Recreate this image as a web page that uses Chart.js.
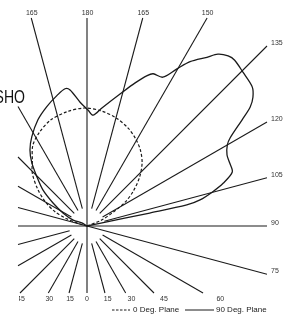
<!DOCTYPE html>
<html>
<head>
<meta charset="utf-8">
<script src="https://cdn.jsdelivr.net/npm/chart.js@4"></script>
<style>
  html, body { margin: 0; padding: 0; background: #fff; }
  canvas { display: block; }
</style>
</head>
<body>
<canvas id="chart" width="283" height="318"></canvas>
<script>
// angles are measured from the bottom (0), round the right (90) to the top (180) and down the left side
const spokeAngles = [0, 15, 30, 45, 60, 75, 90, 105, 120, 135, 150, 165, 180,
  195, 210, 225, 240, 255, 270, 285, 300, 315, 330, 345];
const spokeLabels = ['0', '15', '30', '45', '60', '75', '90', '105', '120', '135', '150', '165', '180',
  '165', '150', '135', '120', '105', '90', '75', '60', '45', '30', '15'];
const fullSpokes = [0, 75, 90, 180, 255, 270]; // these run right through the centre

// 0 Deg. Plane (dashed)
const planeAAngles = [105, 112, 118, 122, 127, 133, 139, 145, 151, 157, 165, 173, 181,
  190, 199, 207, 214, 220, 226, 233, 240, 246, 250, 253, 255];
const planeARadii = [0, 15, 30, 45, 58, 72, 84, 93, 100, 106, 112, 116, 118,
  116, 112, 105, 97, 85, 76, 62, 48, 35, 23, 10, 0];

// 90 Deg. Plane (solid)
const planeBAngles = [100, 102, 101.7, 101.9, 103, 105.2, 107.5, 110.4, 113.8, 116.9, 120, 121.6,
  124.4, 126.1, 127.8, 130.1, 134.6, 138.3, 140.3, 142.7, 144.6, 147.9, 150.2, 153, 156.5, 158.2,
  161.4, 165.3, 172.8, 176.9, 179.5, 183.2, 187.1, 189.1, 192.9, 198.6, 204.8, 211.7, 216.9,
  221.1, 225.6, 230.7, 235.9, 241.6, 246.8, 239, 240];
const planeBRadii = [0, 13, 64, 102, 116, 130, 143, 155, 156, 157, 162, 168,
  188, 202, 210, 216, 219, 222, 221, 216, 207, 194, 181, 167, 166, 162,
  151, 138, 119, 111, 116, 124, 137, 139, 134, 126, 117, 105, 95,
  84, 70, 57, 41, 27, 15, 6, 0];

const legendLabels = ['0 Deg. Plane', '90 Deg. Plane'];

const X_MIN = -69, X_MAX = 180, Y_MIN = -67, Y_MAX = 208;
const INNER = 18;

function toXY(a, r) {
  const rad = a * Math.PI / 180;
  return { x: r * Math.sin(rad), y: -r * Math.cos(rad) };
}

function spokeEnd(a) {
  const rad = a * Math.PI / 180;
  const dx = Math.sin(rad), dy = -Math.cos(rad);
  let t = Infinity, side = '';
  const test = (v, s) => { if (v > 0 && v < t) { t = v; side = s; } };
  if (dx > 1e-9) test(X_MAX / dx, 'right');
  if (dx < -1e-9) test(X_MIN / dx, 'left');
  if (dy > 1e-9) test(Y_MAX / dy, 'top');
  if (dy < -1e-9) test(Y_MIN / dy, 'bottom');
  return { x: dx * t, y: dy * t, dx, dy, side };
}

const spokeSets = spokeAngles.map(a => {
  const end = spokeEnd(a);
  const start = toXY(a, fullSpokes.includes(a) ? 0 : INNER);
  return {
    data: [start, { x: end.x, y: end.y }],
    showLine: true,
    borderColor: '#1a1a1a',
    borderWidth: 1.1,
    pointRadius: 0,
    clip: 2
  };
});

const planeA = {
  label: legendLabels[0],
  data: planeAAngles.map((a, i) => toXY(a, planeARadii[i])),
  showLine: true,
  borderColor: '#1a1a1a',
  borderWidth: 1.2,
  borderDash: [3, 2],
  pointRadius: 0,
  tension: 0.3
};

const planeB = {
  label: legendLabels[1],
  data: planeBAngles.map((a, i) => toXY(a, planeBRadii[i])),
  showLine: true,
  borderColor: '#1a1a1a',
  borderWidth: 1.3,
  pointRadius: 0,
  tension: 0.3
};

const overlay = {
  id: 'overlay',
  afterDraw(chart) {
    const { ctx, scales: { x, y } } = chart;

    // spoke labels, everything left of the frame is cut away
    ctx.save();
    ctx.beginPath();
    ctx.rect(19, 0, 300, 318);
    ctx.clip();
    ctx.font = '7px "Liberation Sans", Arial, sans-serif';
    ctx.fillStyle = '#333';
    spokeAngles.forEach((a, i) => {
      const end = spokeEnd(a);
      const px = x.getPixelForValue(end.x);
      const py = y.getPixelForValue(end.y);
      ctx.textBaseline = 'middle';
      if (end.side === 'top') {
        ctx.textAlign = 'center';
        ctx.fillText(spokeLabels[i], px + 0.5, py - 5);
      } else if (end.side === 'right') {
        ctx.textAlign = 'left';
        ctx.fillText(spokeLabels[i], px + 4, py - 3);
      } else if (end.side === 'left') {
        ctx.textAlign = 'right';
        ctx.fillText(spokeLabels[i], px - 4, py - 3);
      } else {
        ctx.textAlign = 'center';
        const shift = end.dx > 0.01 ? 10 * end.dx / Math.abs(end.dy) : (end.dx < -0.01 ? 1 : 0);
        ctx.fillText(spokeLabels[i], px + shift, py + 6);
      }
    });
    ctx.restore();

    // legend
    ctx.save();
    ctx.font = '8px "Liberation Sans", Arial, sans-serif';
    ctx.fillStyle = '#222';
    ctx.strokeStyle = '#1a1a1a';
    ctx.lineWidth = 1;
    ctx.textAlign = 'left';
    ctx.textBaseline = 'middle';
    const ly = 310;
    ctx.setLineDash([2.5, 1.5]);
    ctx.beginPath(); ctx.moveTo(112, ly); ctx.lineTo(130, ly); ctx.stroke();
    ctx.setLineDash([]);
    ctx.fillText(legendLabels[0], 133, ly);
    ctx.beginPath(); ctx.moveTo(185, ly); ctx.lineTo(214, ly); ctx.stroke();
    ctx.fillText(legendLabels[1], 216, ly);
    ctx.restore();

    // stray title fragment at the left, condensed lettering
    ctx.save();
    ctx.translate(25, 103);
    ctx.scale(0.74, 1);
    ctx.font = '19px "Liberation Sans", Arial, sans-serif';
    ctx.fillStyle = '#111';
    ctx.textAlign = 'right';
    ctx.textBaseline = 'alphabetic';
    ctx.fillText('SHO', 0, 0);
    ctx.restore();
  }
};

new Chart(document.getElementById('chart'), {
  type: 'scatter',
  data: { datasets: [...spokeSets, planeA, planeB] },
  options: {
    responsive: false,
    animation: false,
    layout: { padding: { left: 18, right: 16, top: 18, bottom: 25 } },
    scales: {
      x: { type: 'linear', min: X_MIN, max: X_MAX, display: false },
      y: { type: 'linear', min: Y_MIN, max: Y_MAX, display: false }
    },
    plugins: { legend: { display: false }, tooltip: { enabled: false } }
  },
  plugins: [overlay]
});
</script>
</body>
</html>
